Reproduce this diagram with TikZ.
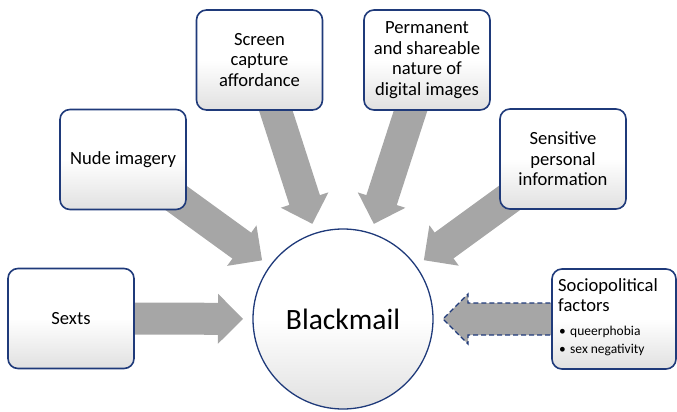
\documentclass[tikz,border=0pt]{standalone}
\usepackage{fontspec}
\setmainfont{Carlito}
\usetikzlibrary{calc,backgrounds}
\definecolor{bord}{HTML}{1F3A7A}
\definecolor{arrgray}{HTML}{A6A6A6}
\newcommand\fatarrow[3]{%
  \coordinate (tipA) at (#2.center);
  \coordinate (tipT) at ($(#3.center)!100pt!(#2.center)$);
  \coordinate (tipB) at ($(tipT)!25pt!(tipA)$);
  \path[#1] ($(tipA)!16pt!90:(tipT)$) -- ($(tipB)!16pt!90:(tipT)$) -- ($(tipB)!25pt!90:(tipT)$)
    -- (tipT) -- ($(tipB)!25pt!-90:(tipT)$) -- ($(tipB)!16pt!-90:(tipT)$) -- ($(tipA)!16pt!-90:(tipT)$) -- cycle;
}
\begin{document}
\begin{tikzpicture}[x=1pt,y=-1pt,
  boxnode/.style={draw=bord, line width=1.6pt, rounded corners=10pt, minimum width=126pt,
    minimum height=100pt, inner sep=0pt, align=center, top color=white, bottom color=black!12,
    middle color=white, font=\fontsize{18.6}{20.5}\selectfont},
  centre/.style={circle, draw=bord, line width=1.3pt, minimum size=180pt, inner sep=0pt,
    top color=white, bottom color=black!12, middle color=white, font=\fontsize{29.5}{34}\selectfont},
  solidarrow/.style={fill=arrgray},
  dasharrow/.style={fill=arrgray, draw=bord, line width=1.4pt, dash pattern=on 5pt off 3pt},
  sidetext/.style={anchor=base west, inner sep=0pt, font=\fontsize{18.6}{20}\selectfont},
  bullettext/.style={anchor=base west, inner sep=0pt, font=\fontsize{13.5}{16}\selectfont}
]
\useasboundingbox (0,0) rectangle (677,412);
\node[centre] (bm) at (343,319) {Blackmail};
\node[boxnode] (sexts) at (71,318.5) {Sexts};
\node[boxnode] (nude) at (123,159.5) {Nude imagery};
\node[boxnode] (screen) at (259.5,60) {Screen\\capture\\affordance};
\node[boxnode] (perm) at (427,60) {Permanent\\and shareable\\nature of\\digital images};
\node[boxnode] (sens) at (563,159) {Sensitive\\personal\\information};
\node[boxnode, minimum width=124pt] (soc) at (614,319) {};
\node[sidetext] (soc1) at (558,291) {Sociopolitical};
\node[sidetext] (soc2) at (558,311) {factors};
\node[bullettext] (b1) at (559,335) {\textbullet};
\node[bullettext] (q1) at (570,335) {queerphobia};
\node[bullettext] (b2) at (559,353) {\textbullet};
\node[bullettext] (q2) at (570,353) {sex negativity};
\begin{scope}[on background layer]
  \fatarrow{solidarrow}{sexts}{bm}
  \fatarrow{solidarrow}{nude}{bm}
  \fatarrow{solidarrow}{screen}{bm}
  \fatarrow{solidarrow}{perm}{bm}
  \fatarrow{solidarrow}{sens}{bm}
  \fatarrow{dasharrow}{soc}{bm}
\end{scope}
\end{tikzpicture}
\end{document}
